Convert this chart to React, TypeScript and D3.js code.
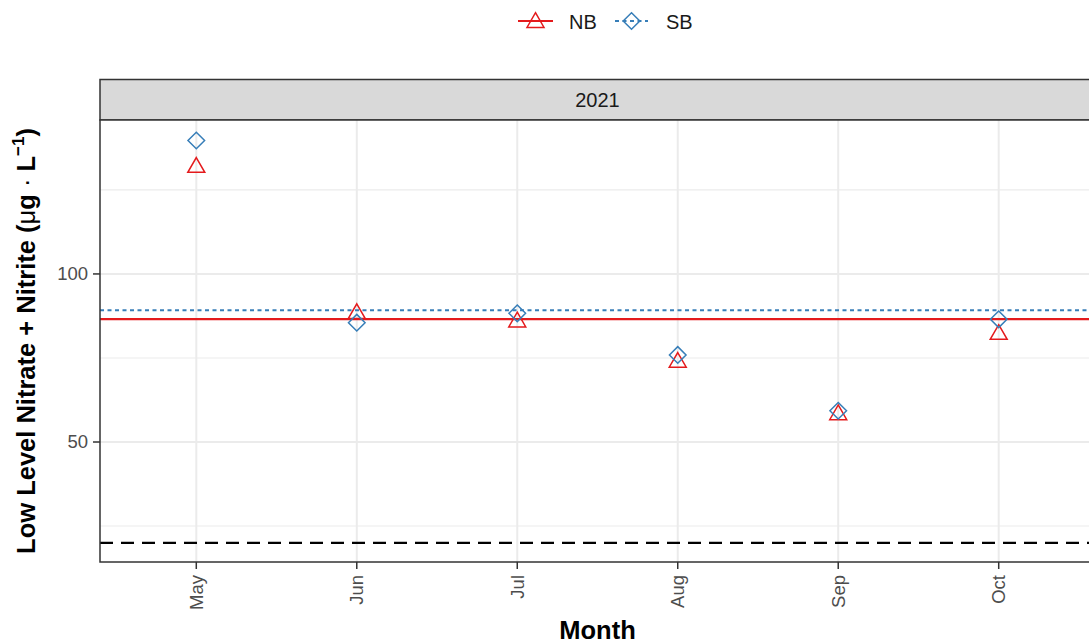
import React from "react";
import * as d3 from "d3";

// months sampled in 2021
const months = ["May", "Jun", "Jul", "Aug", "Sep", "Oct"];
// low level nitrate + nitrite (ug/L)
const nbValues = [131.7, 88.2, 85.7, 73.7, 58.1, 82.0];
const sbValues = [139.7, 85.5, 88.3, 75.9, 59.3, 86.5];
const yTicks = [50, 100];
const yMinor = [25, 75, 125];
const threshold = 20;
const facetLabel = "2021";

const W = 1089,
  H = 644;
const panel = { left: 100, right: 1095, top: 120, bottom: 562 };
const stripTop = 79.5;

const RED = "#E41A1C";
const BLUE = "#377EB8";
const FONT = "'Liberation Sans', Arial, Helvetica, sans-serif";

const triangle = (r: number) =>
  `M0,${-r}L${(r * Math.sqrt(3)) / 2},${r / 2}L${(-r * Math.sqrt(3)) / 2},${r / 2}Z`;
const diamond = (r: number) => `M0,${-r}L${r},0L0,${r}L${-r},0Z`;

export default function App() {
  const x = d3
    .scalePoint<string>()
    .domain(months)
    .range([panel.left, panel.right])
    .padding(0.6);
  const y = d3.scaleLinear().domain([14.3, 145.8]).range([panel.bottom, panel.top]);

  const nbMean = d3.mean(nbValues) as number;
  const sbMean = d3.mean(sbValues) as number;

  return (
    <svg
      width={W}
      height={H}
      style={{ position: "absolute", left: 0, top: 0, background: "#fff" }}
      fontFamily={FONT}
    >
      {/* legend */}
      <g>
        <line x1={518} x2={553} y1={21} y2={21} stroke={RED} strokeWidth={2} />
        <path d={triangle(9.8)} transform="translate(535.5,22.5)" fill="none" stroke={RED} strokeWidth={1.5} />
        <text x={569} y={28.5} fontSize={20} fill="#1A1A1A">NB</text>
        <line x1={615} x2={648} y1={21} y2={21} stroke={BLUE} strokeWidth={2} strokeDasharray="4,3.5" />
        <path d={diamond(8.3)} transform="translate(631.5,21)" fill="none" stroke={BLUE} strokeWidth={1.5} />
        <text x={666} y={28.5} fontSize={20} fill="#1A1A1A">SB</text>
      </g>

      {/* strip */}
      <rect
        x={panel.left}
        y={stripTop}
        width={panel.right - panel.left}
        height={panel.top - stripTop}
        fill="#D9D9D9"
        stroke="#333333"
        strokeWidth={1.5}
      />
      <text
        x={(panel.left + panel.right) / 2}
        y={(stripTop + panel.top) / 2}
        dy="0.35em"
        textAnchor="middle"
        fontSize={20}
        fill="#1A1A1A"
      >
        {facetLabel}
      </text>

      {/* grid */}
      <rect x={panel.left} y={panel.top} width={panel.right - panel.left} height={panel.bottom - panel.top} fill="#fff" />
      {yMinor.map((v) => (
        <line key={"mn" + v} x1={panel.left} x2={panel.right} y1={y(v)} y2={y(v)} stroke="#EBEBEB" strokeWidth={1.1} />
      ))}
      {yTicks.map((v) => (
        <line key={"mj" + v} x1={panel.left} x2={panel.right} y1={y(v)} y2={y(v)} stroke="#EBEBEB" strokeWidth={2} />
      ))}
      {months.map((m) => (
        <line key={"vx" + m} x1={x(m)} x2={x(m)} y1={panel.top} y2={panel.bottom} stroke="#EBEBEB" strokeWidth={2} />
      ))}

      {/* reference lines */}
      <line x1={panel.left} x2={panel.right} y1={y(threshold)} y2={y(threshold)} stroke="#000" strokeWidth={2.2} strokeDasharray="13,8" />
      <line x1={panel.left} x2={panel.right} y1={y(sbMean)} y2={y(sbMean)} stroke={BLUE} strokeWidth={2} strokeDasharray="4,3.5" />
      <line x1={panel.left} x2={panel.right} y1={y(nbMean)} y2={y(nbMean)} stroke={RED} strokeWidth={2.2} />

      {/* points */}
      {months.map((m, i) => (
        <path
          key={"nb" + m}
          d={triangle(9.8)}
          transform={`translate(${x(m)},${y(nbValues[i])})`}
          fill="none"
          stroke={RED}
          strokeWidth={1.5}
        />
      ))}
      {months.map((m, i) => (
        <path
          key={"sb" + m}
          d={diamond(8.3)}
          transform={`translate(${x(m)},${y(sbValues[i])})`}
          fill="none"
          stroke={BLUE}
          strokeWidth={1.5}
        />
      ))}

      {/* panel border */}
      <rect
        x={panel.left}
        y={panel.top}
        width={panel.right - panel.left}
        height={panel.bottom - panel.top}
        fill="none"
        stroke="#333333"
        strokeWidth={1.5}
      />

      {/* y axis */}
      {yTicks.map((v) => (
        <g key={"yt" + v}>
          <line x1={panel.left - 7} x2={panel.left} y1={y(v)} y2={y(v)} stroke="#333333" strokeWidth={1.5} />
          <text x={panel.left - 12} y={y(v)} dy="0.35em" textAnchor="end" fontSize={18.5} fill="#4D4D4D">
            {v}
          </text>
        </g>
      ))}

      {/* x axis */}
      {months.map((m) => (
        <g key={"xt" + m}>
          <line x1={x(m)} x2={x(m)} y1={panel.bottom} y2={panel.bottom + 7} stroke="#333333" strokeWidth={1.5} />
          <text
            transform={`translate(${x(m)},${panel.bottom + 13}) rotate(-90)`}
            dy="0.35em"
            textAnchor="end"
            fontSize={18.5}
            fill="#4D4D4D"
          >
            {m}
          </text>
        </g>
      ))}

      {/* axis titles */}
      <text x={597.5} y={639} textAnchor="middle" fontSize={25.5} fontWeight="bold" fill="#000">
        Month
      </text>
      <text
        transform={`translate(35,${(panel.top + panel.bottom) / 2}) rotate(-90)`}
        textAnchor="middle"
        fontSize={25.5}
        fontWeight="bold"
        fill="#000"
      >
        Low Level Nitrate + Nitrite (<tspan fontWeight="normal">μ</tspan>g
        <tspan fontWeight="normal"> · </tspan>L
        <tspan dy="-11" fontSize={17}>−1</tspan>
        <tspan dy="11">)</tspan>
      </text>
    </svg>
  );
}
